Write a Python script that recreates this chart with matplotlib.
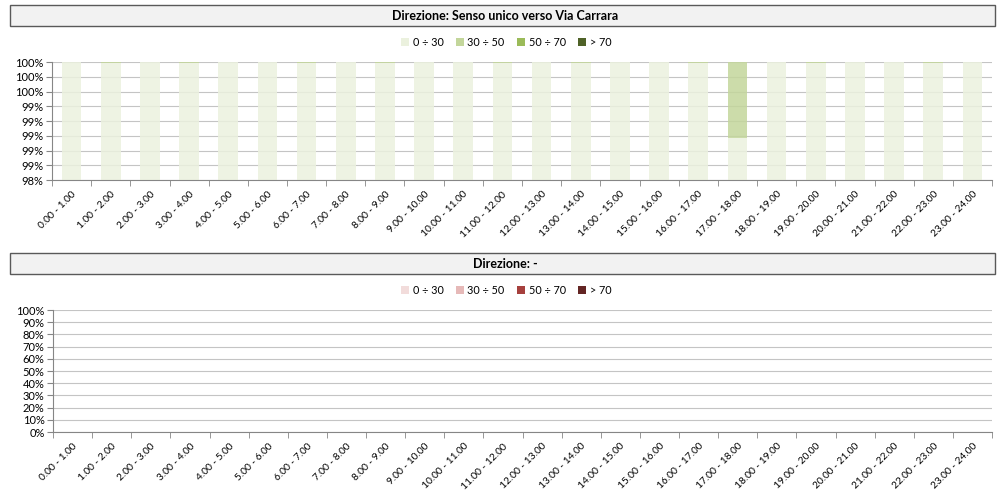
import numpy as np
import matplotlib.pyplot as plt
from matplotlib.patches import Rectangle, Patch

plt.rcParams['font.family'] = ['Lato', 'DejaVu Sans']

hours = ["0.00 - 1.00", "1.00 - 2.00", "2.00 - 3.00", "3.00 - 4.00", "4.00 - 5.00",
         "5.00 - 6.00", "6.00 - 7.00", "7.00 - 8.00", "8.00 - 9.00", "9.00 - 10.00",
         "10.00 - 11.00", "11.00 - 12.00", "12.00 - 13.00", "13.00 - 14.00",
         "14.00 - 15.00", "15.00 - 16.00", "16.00 - 17.00", "17.00 - 18.00",
         "18.00 - 19.00", "19.00 - 20.00", "20.00 - 21.00", "21.00 - 22.00",
         "22.00 - 23.00", "23.00 - 24.00"]
classes = ["0 ÷ 30", "30 ÷ 50", "50 ÷ 70", "> 70"]

# percentage of vehicles per speed class, direction 1
dir1_0_30 = [100.0, 99.99, 100.0, 99.99, 100.0, 100.0, 99.99, 100.0, 99.98, 100.0,
             100.0, 99.99, 100.0, 99.99, 100.0, 100.0, 99.99, 98.97, 100.0, 99.99,
             100.0, 100.0, 99.99, 100.0]
dir1_30_50 = [0.0, 0.01, 0.0, 0.01, 0.0, 0.0, 0.01, 0.0, 0.02, 0.0,
              0.0, 0.01, 0.0, 0.01, 0.0, 0.0, 0.01, 1.03, 0.0, 0.01,
              0.0, 0.0, 0.01, 0.0]
dir1_50_70 = [0.0] * 24
dir1_over70 = [0.0] * 24

# direction 2: no traffic recorded
dir2_0_30 = [0.0] * 24
dir2_30_50 = [0.0] * 24
dir2_50_70 = [0.0] * 24
dir2_over70 = [0.0] * 24

dir1_yticks = [98.4, 98.6, 98.8, 99.0, 99.2, 99.4, 99.6, 99.8, 100.0]
dir2_yticks = [0, 10, 20, 30, 40, 50, 60, 70, 80, 90, 100]

greens = ["#EBF1DE", "#C3D69B", "#9BBB59", "#4F6228"]
reds = ["#F2DCDB", "#E6B9B8", "#A6403D", "#632523"]

W, H = 999, 494
fig = plt.figure(figsize=(W / 100, H / 100), dpi=100)


def px_axes(x0, y0, x1, y1):
    return fig.add_axes([x0 / W, 1 - y1 / H, (x1 - x0) / W, (y1 - y0) / H])


def header(y0, y1, text):
    fig.patches.append(Rectangle((10 / W, 1 - y1 / H), 985 / W, (y1 - y0) / H,
                                 transform=fig.transFigure, facecolor="#F2F2F2",
                                 edgecolor="#595959", linewidth=1.0))
    fig.text(505 / W, 1 - (y0 + y1) / 2 / H, text, ha="center", va="center",
             fontsize=9, fontweight="bold", color="black")


def legend(y, colors):
    handles = [Patch(facecolor=c, edgecolor="none", label=l) for c, l in zip(colors, classes)]
    fig.legend(handles=handles, loc="center", bbox_to_anchor=(506 / W, 1 - y / H),
               ncol=4, frameon=False, fontsize=7.8, handlelength=0.75, handleheight=0.75,
               handletextpad=0.35, columnspacing=1.1)


def draw_panel(ax, series, colors, ylim, yticks, ylabels):
    x = np.arange(len(hours))
    bottom = np.zeros(len(hours))
    for vals, c in zip(series, colors):
        vals = np.array(vals)
        ax.bar(x, vals, width=0.5, bottom=bottom, color=c, alpha=0.85, zorder=2)
        bottom += vals
    ax.set_xlim(-0.5, len(hours) - 0.5)
    ax.set_ylim(*ylim)
    ax.set_yticks(yticks)
    ax.set_yticklabels(ylabels, fontsize=8)
    ax.yaxis.grid(True, color="#C4C4C4", linewidth=0.8, zorder=1)
    ax.set_xticks(x)
    ax.set_xticklabels(hours, rotation=45, ha="right", rotation_mode="anchor", fontsize=7.3)
    ax.set_xticks(np.arange(len(hours) + 1) - 0.5, minor=True)
    ax.tick_params(axis="x", which="major", length=0, pad=7)
    ax.tick_params(axis="x", which="minor", length=4, color="#868686")
    ax.tick_params(axis="y", length=4, color="#868686", pad=2)
    for s in ("top", "right"):
        ax.spines[s].set_visible(False)
    for s in ("left", "bottom"):
        ax.spines[s].set_color("#868686")
        ax.spines[s].set_linewidth(0.8)
    ax.set_axisbelow(True)


# direction 1
header(5, 26, "Direzione: Senso unico verso Via Carrara")
legend(42, greens)
ax1 = px_axes(52, 62, 992, 180)
draw_panel(ax1, [dir1_0_30, dir1_30_50, dir1_50_70, dir1_over70], greens,
           (98.4, 100.0), dir1_yticks, [f"{round(v):.0f}%" for v in dir1_yticks])

# direction 2
header(253, 274, "Direzione: -")
legend(290, reds)
ax2 = px_axes(53, 310, 992, 432)
draw_panel(ax2, [dir2_0_30, dir2_30_50, dir2_50_70, dir2_over70], reds,
           (0, 100), dir2_yticks, [f"{v}%" for v in dir2_yticks])

fig.savefig("out.png", dpi=100)
